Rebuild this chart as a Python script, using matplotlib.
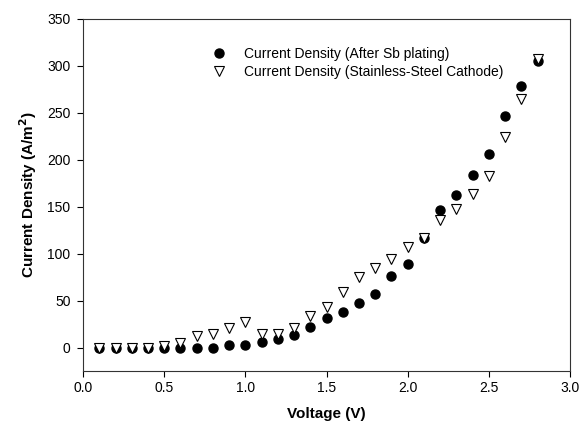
import matplotlib
matplotlib.use('Agg')
import matplotlib.pyplot as plt

plt.rcParams['font.family'] = ['Liberation Sans', 'DejaVu Sans']

# Data
voltage = [0.1, 0.2, 0.3, 0.4, 0.5, 0.6, 0.7, 0.8, 0.9, 1.0,
           1.1, 1.2, 1.3, 1.4, 1.5, 1.6, 1.7, 1.8, 1.9, 2.0,
           2.1, 2.2, 2.3, 2.4, 2.5, 2.6, 2.7, 2.8]
after_sb = [0, 0, 0, 0, 0, 0, 0, 0, 3, 3,
            6, 9, 13, 22, 32, 38, 48, 57, 76, 89,
            117, 146, 162, 184, 206, 247, 279, 305]
stainless = [0, 0, 0, 0, 2, 5, 12, 15, 21, 27,
             15, 15, 21, 34, 43, 59, 75, 85, 94, 107,
             117, 136, 148, 164, 183, 224, 265, 307]

xticks = [0.0, 0.5, 1.0, 1.5, 2.0, 2.5, 3.0]
yticks = [0, 50, 100, 150, 200, 250, 300, 350]

fig = plt.figure(figsize=(5.81, 4.28), dpi=100)
ax = fig.add_axes([0.143, 0.133, 0.838, 0.823])

ax.plot(voltage, after_sb, linestyle='none', marker='o', markersize=6.5,
        color='black', label='Current Density (After Sb plating)', zorder=2)
ax.plot(voltage, stainless, linestyle='none', marker='v', markersize=6.5,
        markerfacecolor='white', markeredgecolor='black', markeredgewidth=0.8,
        label='Current Density (Stainless-Steel Cathode)', zorder=3)

ax.set_xlim(0, 3.0)
ax.set_ylim(-25, 350)
ax.set_xticks(xticks)
ax.set_xticklabels([f'{t:.1f}' for t in xticks])
ax.set_yticks(yticks)
ax.tick_params(direction='out', length=4, width=0.8, labelsize=10)
ax.tick_params(axis='x', pad=3)
ax.tick_params(axis='y', pad=5)

for s in ax.spines.values():
    s.set_linewidth(0.8)
    s.set_color('#333333')

ax.set_xlabel('Voltage (V)', fontsize=11, fontweight='bold', labelpad=9)
ax.set_ylabel('Current Density (A/m$^\\mathbf{2}$)', fontsize=11,
              fontweight='bold', labelpad=6)

ax.legend(loc='upper left', bbox_to_anchor=(0.24, 0.937), frameon=False,
          fontsize=10, handletextpad=0.8, labelspacing=0.3, borderaxespad=0)

fig.savefig('out.png', dpi=100)
